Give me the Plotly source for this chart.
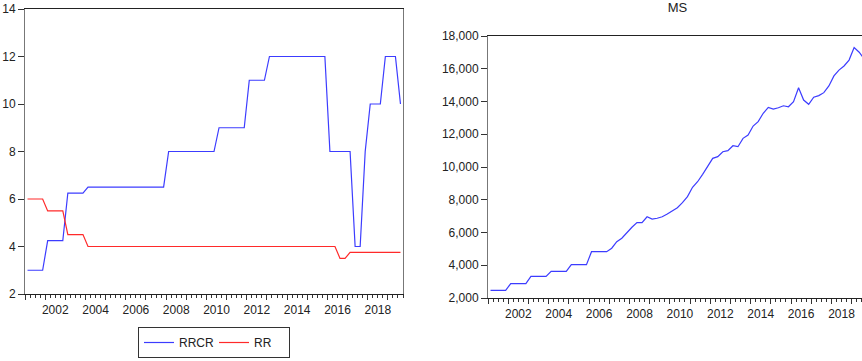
import plotly.graph_objects as go

# Quarterly observations, 2001Q1 .. 2019Q3
start_year = 2001
n_obs = 75

rrcr = ([3.0] * 4 + [4.25] * 4 + [6.25] * 4 + [6.5] * 16 + [8.0] * 10 +
        [9.0] * 6 + [11.0] * 4 + [12.0] * 12 + [8.0] * 5 + [4.0] * 2 +
        [8.0] + [10.0] * 3 + [12.0] * 3 + [10.0])

rr = ([6.0] * 4 + [5.5] * 4 + [4.5] * 4 + [4.0] * 50 + [3.5] * 2 +
      [3.75] * 11)

ms = [2470, 2470, 2470, 2470, 2880, 2880, 2880, 2880,
      3320, 3320, 3320, 3320, 3630, 3630, 3630, 3630,
      4040, 4040, 4040, 4040, 4830, 4830, 4830, 4830,
      5040, 5440, 5650, 6010, 6320, 6600, 6600, 6960,
      6820, 6870, 6960, 7130, 7310, 7510, 7820, 8190,
      8760, 9100, 9550, 10050, 10530, 10630, 10930, 11000,
      11300, 11240, 11750, 11950, 12500, 12770, 13280, 13640,
      13540, 13620, 13740, 13680, 13990, 14840, 14090, 13830,
      14260, 14360, 14540, 14950, 15560, 15920, 16170, 16530,
      17290, 17010, 16600]

year_labels = [2002, 2004, 2006, 2008, 2010, 2012, 2014, 2016, 2018]

# each quarter is drawn at the centre of its interval
t = [start_year + (i + 0.5) / 4 for i in range(n_obs)]
t_end = start_year + n_obs / 4

W, H = 862, 361
FONT = "Liberation Sans, Arial, sans-serif"
FSIZE = 12
BLUE = "#3c3cff"
RED = "#ff2a2a"


def px_x(a, b):
    return [a / W, b / W]


def px_y(top, bottom):
    return [(H - bottom) / H, (H - top) / H]


fig = go.Figure()
fig.add_trace(go.Scatter(x=t, y=rrcr, name="RRCR", mode="lines",
                         line=dict(color=BLUE, width=1.2),
                         xaxis="x", yaxis="y"))
fig.add_trace(go.Scatter(x=t, y=rr, name="RR", mode="lines",
                         line=dict(color=RED, width=1.2),
                         xaxis="x", yaxis="y"))
fig.add_trace(go.Scatter(x=t, y=ms, name="MS", mode="lines",
                         line=dict(color=BLUE, width=1.2),
                         xaxis="x2", yaxis="y2", showlegend=False))
# carriers for the year-label axes
fig.add_trace(go.Scatter(x=[None], y=[None], xaxis="x3", yaxis="y",
                         showlegend=False, hoverinfo="skip"))
fig.add_trace(go.Scatter(x=[None], y=[None], xaxis="x4", yaxis="y2",
                         showlegend=False, hoverinfo="skip"))

year_ticks = list(range(start_year, int(t_end) + 1))
tick_font = dict(family=FONT, size=FSIZE, color="#222")


def tick_axis(domain, rng, anchor, mirror):
    return dict(domain=domain, range=rng, anchor=anchor, automargin=False,
                tickmode="array", tickvals=year_ticks, showticklabels=False,
                ticks="outside", ticklen=5, tickcolor="#333", tickwidth=1,
                minor=dict(tickmode="linear", tick0=start_year, dtick=0.25,
                           ticks="outside", ticklen=3, tickcolor="#333",
                           tickwidth=1, showgrid=False),
                showline=True, linecolor="#222", linewidth=1, mirror=mirror,
                showgrid=False, zeroline=False, fixedrange=True)


def label_axis(over, domain, rng, anchor):
    return dict(overlaying=over, domain=domain, range=rng, anchor=anchor,
                automargin=False, side="bottom", tickmode="array",
                tickvals=[y + 0.5 for y in year_labels],
                ticktext=[str(y) for y in year_labels],
                ticks="outside", ticklen=5, tickcolor="rgba(0,0,0,0)",
                tickfont=tick_font, showline=False, showgrid=False,
                zeroline=False, fixedrange=True)


left_dom = px_x(25, 403)
left_ydom = px_y(9, 294)
right_dom = [488 / W, 1.0]
right_ydom = px_y(36, 298)
right_rng = [start_year, start_year + (862 - 488) / (378.75 / (n_obs / 4))]

fig.update_layout(
    width=W, height=H,
    margin=dict(l=0, r=0, t=0, b=0, autoexpand=False),
    paper_bgcolor="white", plot_bgcolor="white",
    font=dict(family=FONT, size=FSIZE, color="#222"),
    title=dict(text="MS", x=677.5 / W, xref="container", xanchor="center",
               y=1 - 7 / H, yref="container", yanchor="middle",
               font=dict(family=FONT, size=FSIZE + 1, color="#222")),
    xaxis=tick_axis(left_dom, [start_year, t_end], "y", True),
    xaxis3=label_axis("x", left_dom, [start_year, t_end], "y"),
    yaxis=dict(domain=left_ydom, range=[2, 14], automargin=False,
               tickmode="linear", tick0=2, dtick=2, ticks="outside",
               ticklen=6, tickcolor="#333", tickfont=tick_font,
               showline=True, linecolor="#777", linewidth=1, mirror=True,
               showgrid=False, zeroline=False, fixedrange=True),
    xaxis2=tick_axis(right_dom, right_rng, "y2", True),
    xaxis4=label_axis("x2", right_dom, right_rng, "y2"),
    yaxis2=dict(domain=right_ydom, range=[2000, 18000], anchor="x2",
                automargin=False, tickmode="linear", tick0=2000, dtick=2000,
                tickformat=",d", ticks="outside", ticklen=6,
                tickcolor="#333", tickfont=tick_font,
                showline=True, linecolor="#777", linewidth=1, mirror=False,
                showgrid=False, zeroline=False, fixedrange=True),
    legend=dict(orientation="h", x=214 / W, xanchor="center",
                y=(H - 358) / H, yanchor="bottom",
                bordercolor="#333", borderwidth=1,
                font=dict(family=FONT, size=FSIZE, color="#222"),
                itemwidth=30, tracegroupgap=0,
                entrywidthmode="pixels", entrywidth=30),
    showlegend=True,
)

fig.write_html("out.html")
